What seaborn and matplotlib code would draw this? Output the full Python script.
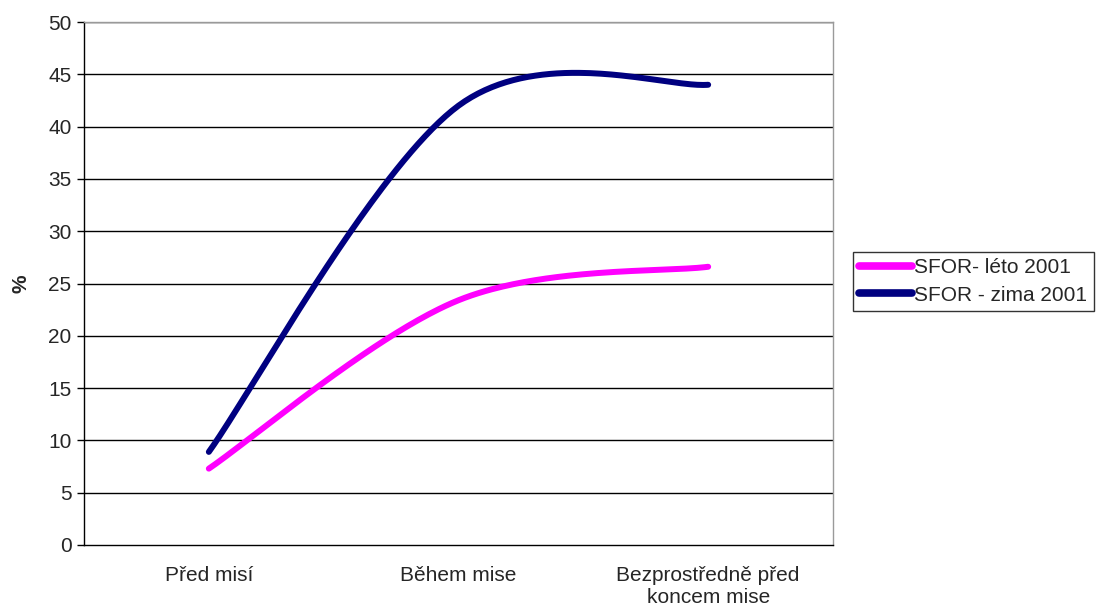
#!/usr/bin/env python3
"""
Smoothed line chart: SFOR summer vs winter 2001 (percent by mission phase).
"""

import numpy as np
import pandas as pd
import matplotlib
matplotlib.use("Agg")
import matplotlib.pyplot as plt
import seaborn as sns

# data
categories = ["Před misí", "Během mise", "Bezprostředně před\nkoncem mise"]
leto_2001 = [7.3, 23.4, 26.6]
zima_2001 = [8.9, 42.0, 44.0]
series_names = ["SFOR- léto 2001", "SFOR - zima 2001"]
series_colors = ["#FF00FF", "#000080"]
y_ticks = list(range(0, 51, 5))


def excel_smooth(xs, ys, n=80):
    """Bezier smoothing like Excel's 'smoothed line' (control points at 1/6)."""
    P = np.column_stack([np.asarray(xs, float), np.asarray(ys, float)])
    P = np.vstack([P[:1], P, P[-1:]])
    t = np.linspace(0, 1, n)[:, None]
    pts = []
    for i in range(1, len(P) - 2):
        c1 = P[i] + (P[i + 1] - P[i - 1]) / 6
        c2 = P[i + 1] - (P[i + 2] - P[i]) / 6
        b = (1 - t) ** 3 * P[i] + 3 * (1 - t) ** 2 * t * c1 \
            + 3 * (1 - t) * t ** 2 * c2 + t ** 3 * P[i + 1]
        pts.append(b if i == 1 else b[1:])
    pts = np.vstack(pts)
    return pts[:, 0], pts[:, 1]


sns.set_style("white")
plt.rcParams["font.family"] = ["Liberation Sans", "DejaVu Sans"]
FS = 15

fig = plt.figure(figsize=(10.96, 6.10), dpi=100)
ax = fig.add_axes([84 / 1096, 1 - 545 / 610, (833 - 84) / 1096, (545 - 22) / 610])

x_pos = np.arange(len(categories))
frames = []
for name, vals in zip(series_names, [leto_2001, zima_2001]):
    sx, sy = excel_smooth(x_pos, vals)
    frames.append(pd.DataFrame({"x": sx, "y": sy, "series": name}))
df = pd.concat(frames, ignore_index=True)

# horizontal gridlines
for yv in y_ticks[1:]:
    ax.axhline(yv, color="#000000", lw=1.0, zorder=0)

sns.lineplot(data=df, x="x", y="y", hue="series", hue_order=series_names,
             palette=series_colors, sort=False, estimator=None, units="series",
             linewidth=4.3, ax=ax, legend=True)
for line in ax.get_lines():
    line.set_solid_capstyle("round")

ax.set_xlim(-0.5, 2.5)
ax.set_ylim(0, 50)
ax.set_yticks(y_ticks)
ax.set_yticklabels([str(v) for v in y_ticks], fontsize=FS)

ax.set_xticks([-0.5, 0.5, 1.5, 2.5])
ax.set_xticklabels([])
ax.set_xticks(x_pos, minor=True)
ax.set_xticklabels(categories, minor=True, fontsize=FS)
ax.tick_params(axis="x", which="major", direction="out", length=5, width=1, color="black")
ax.tick_params(axis="x", which="minor", length=0, pad=15)
ax.tick_params(axis="y", direction="out", length=5, width=1, color="black", pad=4, left=True)

ax.set_xlabel("")
ax.set_ylabel("%", fontsize=FS, fontweight="bold", labelpad=13)

for side in ["left", "bottom"]:
    ax.spines[side].set_color("black")
    ax.spines[side].set_linewidth(1)
for side in ["top", "right"]:
    ax.spines[side].set_color("#9a9a9a")
    ax.spines[side].set_linewidth(1)

handles, labels = ax.get_legend_handles_labels()
ax.legend_.remove()
for h in handles:
    h.set_linewidth(5.5)
    h.set_solid_capstyle("round")
leg = fig.legend(handles, labels, loc="center left",
                 bbox_to_anchor=(853 / 1096, 1 - 281.5 / 610),
                 bbox_transform=fig.transFigure, fontsize=FS,
                 frameon=True, fancybox=False, edgecolor="black",
                 handlelength=2.55, handletextpad=0.1, borderpad=0.3,
                 labelspacing=0.4, borderaxespad=0)
leg.get_frame().set_linewidth(1)

fig.savefig("out.png", dpi=100)
